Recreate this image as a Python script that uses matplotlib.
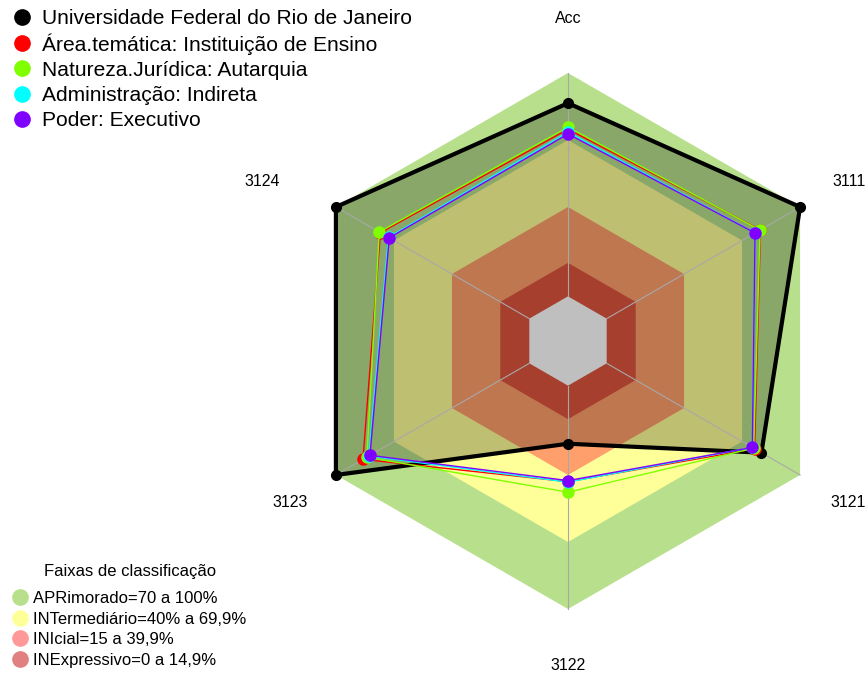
import numpy as np
import matplotlib.pyplot as plt

plt.rcParams['font.family'] = ['Liberation Sans', 'DejaVu Sans']

# eixos do radar (sentido horario a partir do topo)
eixos = ["Acc", "3111", "3121", "3122", "3123", "3124"]

# series (fracao de 0 a 1)
ufrj = [0.865, 1.0, 0.80, 0.26, 1.0, 1.0]
area_tematica = [0.748, 0.795, 0.765, 0.43, 0.86, 0.77]
natureza = [0.758, 0.793, 0.76, 0.477, 0.84, 0.776]
administracao = [0.735, 0.767, 0.753, 0.432, 0.83, 0.728]
poder = [0.727, 0.767, 0.753, 0.425, 0.824, 0.724]

nomes = ["Universidade Federal do Rio de Janeiro",
         "Área.temática: Instituição de Ensino",
         "Natureza.Jurídica: Autarquia",
         "Administração: Indireta",
         "Poder: Executivo"]
cores = ["black", "#ff0000", "#80ff00", "#00ffff", "#8000ff"]

# faixas de classificacao
faixas_lim = [1.0, 0.70, 0.40, 0.15]
faixas_cor = ["#b8e08c", "#ffff99", "#ffa06c", "#e05540"]
faixas_leg = ["APRimorado=70 a 100%", "INTermediário=40% a 69,9%",
              "INIcial=15 a 39,9%", "INExpressivo=0 a 14,9%"]
faixas_leg_cor = ["#b8e08c", "#ffff99", "#ff9999", "#e08080"]

n = len(eixos)
ang = np.pi / 2 - np.arange(n) * 2 * np.pi / n


def raio(v):
    # centro vazio como no fmsb (centerzero = FALSE, seg = 5)
    return 1 / 6 + 5 / 6 * np.asarray(v)


def xy(vals):
    r = raio(vals)
    x = r * np.cos(ang)
    y = r * np.sin(ang)
    return np.append(x, x[0]), np.append(y, y[0])


W, H = 867, 673
fig = plt.figure(figsize=(W / 100, H / 100), dpi=100)
ax = fig.add_axes([0, 0, 1, 1])
cx, cy, R = 568, 341, 268
ax.set_xlim(-cx / R, (W - cx) / R)
ax.set_ylim(-(H - cy) / R, cy / R)
ax.axis('off')

# faixas (hexagonos opacos, de fora para dentro)
for lim, cor in zip(faixas_lim, faixas_cor):
    x, y = xy([lim] * n)
    ax.fill(x, y, color=cor, lw=0, zorder=1)
x, y = xy([0] * n)
ax.fill(x, y, color="white", lw=0, zorder=1)

# preenchimento da UFRJ
x, y = xy(ufrj)
ax.fill(x, y, color="black", alpha=0.25, lw=0, zorder=2)

# raios
r0, r1 = raio(0), raio(1)
for a in ang:
    ax.plot([r0 * np.cos(a), r1 * np.cos(a)], [r0 * np.sin(a), r1 * np.sin(a)],
            color="#a8a8a8", lw=0.8, zorder=3)

# series
series = [ufrj, area_tematica, natureza, administracao, poder]
for i, (vals, cor) in enumerate(zip(series, cores)):
    x, y = xy(vals)
    if i == 0:
        ax.plot(x, y, color=cor, lw=3, zorder=5)
        ax.plot(x[:-1], y[:-1], 'o', color=cor, ms=7, zorder=5)
    else:
        ax.plot(x, y, color=cor, lw=1, zorder=6 + i)
        ax.plot(x[:-1], y[:-1], 'o', color=cor, ms=8, zorder=6 + i)

# rotulos dos eixos
pos_rot = [(0.0, 1.205), (1.047, 0.597), (1.047, -0.604),
           (0.0, -1.209), (-1.037, -0.604), (-1.142, 0.597)]
for nome, (px, py) in zip(eixos, pos_rot):
    ax.text(px, py, nome, ha="center", va="center", fontsize=11.5)


def fx(px):
    return px / W


def fy(py):
    return 1 - py / H


# legenda das series (posicionada em pixels, linhas igualmente espacadas)
for k, (nome, cor) in enumerate(zip(nomes, cores)):
    yy = 17 + k * 25.5
    ax.plot([fx(22)], [fy(yy)], 'o', color=cor, ms=11, transform=ax.transAxes,
            clip_on=False, zorder=10)
    ax.text(fx(42), fy(yy), nome, fontsize=15.1, va="center_baseline",
            ha="left", transform=ax.transAxes)

# legenda das faixas
ax.text(fx(130), fy(570), "Faixas de classificação", fontsize=12,
        ha="center", va="center_baseline", transform=ax.transAxes)
for k, (nome, cor) in enumerate(zip(faixas_leg, faixas_leg_cor)):
    yy = 597 + k * 20.6
    ax.plot([fx(20)], [fy(yy)], 'o', color=cor, ms=11, transform=ax.transAxes,
            clip_on=False, zorder=10)
    ax.text(fx(33), fy(yy), nome, fontsize=12, va="center_baseline",
            ha="left", transform=ax.transAxes)

plt.savefig("out.png", dpi=100)
